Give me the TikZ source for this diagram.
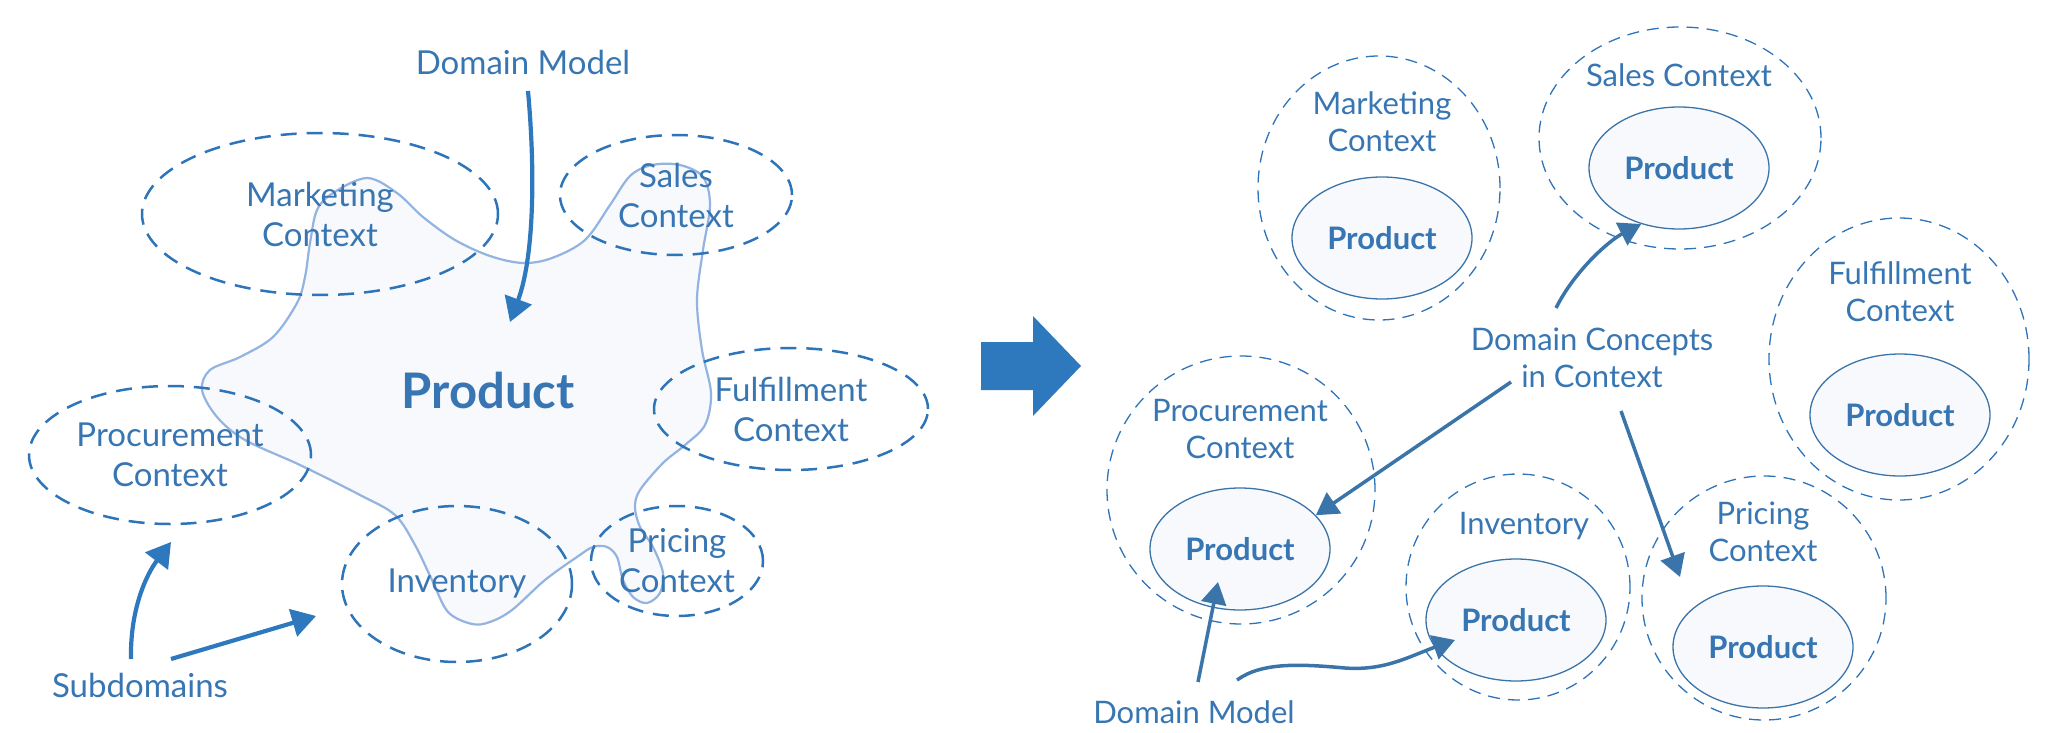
\documentclass[tikz,border=0pt]{standalone}
\usepackage{fontspec}
\setmainfont{Lato}
\usetikzlibrary{shapes.geometric, positioning, arrows.meta}
\definecolor{textblue}{HTML}{3776B2}
\definecolor{arrowblue}{HTML}{2E79BE}
\definecolor{dashblue}{HTML}{2E74B8}
\definecolor{steelblue}{HTML}{3B74A8}
\definecolor{blobline}{HTML}{93B3E0}
\definecolor{blobfill}{HTML}{F7F9FC}
\tikzset{
x=1pt, y=-1pt, % one unit per pixel of the sketch, y runs downwards
every node/.style={text=textblue, inner sep=0pt},
note/.style={font=\fontsize{33}{40}\selectfont, align=center}, % labels of the left half
subdomain/.style={ellipse, draw=dashblue, line width=2.5pt, dash pattern=on 16pt off 10pt, note}, % dashed subdomain
bounded/.style={ellipse, draw=dashblue, line width=1.3pt, dash pattern=on 12pt off 8pt}, % border of a bounded context
concept/.style={ellipse, draw=steelblue, line width=1.3pt, fill=blobfill, minimum width=180pt, minimum height=122pt, font=\fontsize{31}{37}\selectfont\bfseries},
caption/.style={font=\fontsize{31}{37.5}\selectfont, align=center}, % labels of the right half
pointer/.style={draw=arrowblue, line width=4.2pt, -{Triangle[length=24pt,width=28pt]}},
link/.style={draw=steelblue, line width=3.5pt, -{Triangle[length=22pt,width=25pt]}},
}

\begin{document}
\begin{tikzpicture}
\useasboundingbox (0,0) rectangle (2070,733);
% left half: one big model over all subdomains
\path[draw=blobline, fill=blobfill, line width=2.2pt] plot[smooth cycle, tension=0.55] coordinates {
(367,178) (397,193) (423,217) (455,240) (490,256) (523,263) (552,258) (585,240) (610,205)
(630,176) (652,165) (680,165) (703,177) (710,205) (703,250) (697,300) (702,350) (711,393)
(705,425) (685,445) (663,463) (640,490) (635,507) (640,527) (653,547) (663,573) (660,593)
(647,603) (633,597) (623,580) (617,557) (607,547) (593,547) (577,557) (545,580) (512,610)
(490,622) (472,624) (448,612) (432,580) (415,545) (395,515) (360,495) (300,465) (245,440)
(217,417) (202,390) (210,370) (240,357) (273,337) (297,303) (305,277) (310,243) (317,210)
(333,193)};
\node[subdomain, minimum width=356pt, minimum height=162pt] (mark) at (320,214) {Marketing\\Context};
\node[subdomain, minimum width=232pt, minimum height=120pt] (sale) at (676,195) {Sales\\Context};
\node[subdomain, minimum width=274pt, minimum height=122pt] (fulf) at (791,409) {Fulfillment\\Context};
\node[subdomain, minimum width=282pt, minimum height=138pt] (proc) at (170,455) {Procurement\\Context};
\node[subdomain, minimum width=230pt, minimum height=156pt] (inv) at (457,584) {Inventory};
\node[subdomain, minimum width=172pt, minimum height=110pt] (pric) at (677,561) {Pricing\\Context};
\node[anchor=base, font=\fontsize{49}{58}\selectfont\bfseries] (prod) at (488,408) {Product};
\node[note, anchor=base] (model) at (523,75) {Domain Model};
\node[note, anchor=base] (sub) at (140,697) {Subdomains};
\coordinate (prodTip) at (510,322);
\coordinate (procTip) at (171,542);
\coordinate (invTip) at (316,616);
\path[pointer] ([xshift=5pt,yshift=-16pt]model.base) .. controls (536,180) and (533,260) .. (prodTip);
\path[pointer] ([xshift=-9pt,yshift=38pt]sub.base) .. controls (130,610) and (146,575) .. (procTip);
\path[pointer] ([xshift=31pt,yshift=38pt]sub.base) -- (invTip);

% the big arrow between the halves
\fill[arrowblue] (981,342) -- (1033,342) -- (1033,316) -- (1081,366) -- (1033,416) -- (1033,390) -- (981,390) -- cycle;

% right half: each context with its own product
\node[bounded, minimum width=242pt, minimum height=264pt] (mc) at (1379,188) {};
\node[concept] (mp) at (1382,238) {Product};
\node[caption, above=24pt of mp] (ml) {Marketing\\Context};
\node[bounded, minimum width=282pt, minimum height=222pt] (sc) at (1680,138) {};
\node[concept] (sp) at (1679,168) {Product};
\node[caption, above=19pt of sp] (sl) {Sales Context};
\node[bounded, minimum width=260pt, minimum height=282pt] (fc) at (1899,359) {};
\node[concept] (fp) at (1900,415) {Product};
\node[caption, above=31pt of fp] (fl) {Fulfillment\\Context};
\node[bounded, minimum width=268pt, minimum height=268pt] (pc) at (1241,490) {};
\node[concept] (pp) at (1240,549) {Product};
\node[caption, above=28pt of pp] (pl) {Procurement\\Context};
\node[bounded, minimum width=224pt, minimum height=226pt] (ic) at (1518,587) {};
\node[concept] (ip) at (1516,620) {Product};
\node[caption, above=18pt of ip, xshift=8pt] (il) {Inventory};
\node[bounded, minimum width=244pt, minimum height=244pt] (rc) at (1764,598) {};
\node[concept] (rp) at (1763,647) {Product};
\node[caption, above=23pt of rp] (rl) {Pricing\\Context};

\node[caption] (dc) at (1592,358) {Domain Concepts\\in Context};
\node[caption, anchor=base] (dm) at (1194,723) {Domain Model};
\coordinate (rpTip) at (1680,577);
\coordinate (ppTip) at (1218,582);
\coordinate (ipTip) at (1455,640);
\path[link] ([xshift=-36pt,yshift=50pt]dc.center) .. controls (1575,270) and (1610,240) .. (sp.236);
\path[link] ([xshift=-81pt,yshift=-24pt]dc.center) -- (pp.24);
\path[link] ([xshift=29pt,yshift=-53pt]dc.center) -- (rpTip);
\path[link] ([xshift=4pt,yshift=41pt]dm.base) -- (ppTip);
\path[link] ([xshift=43pt,yshift=43pt]dm.base) .. controls (1262,662) and (1300,664) .. (1345,668)
 .. controls (1385,671) and (1410,656) .. (ipTip);
\end{tikzpicture}
\end{document}
